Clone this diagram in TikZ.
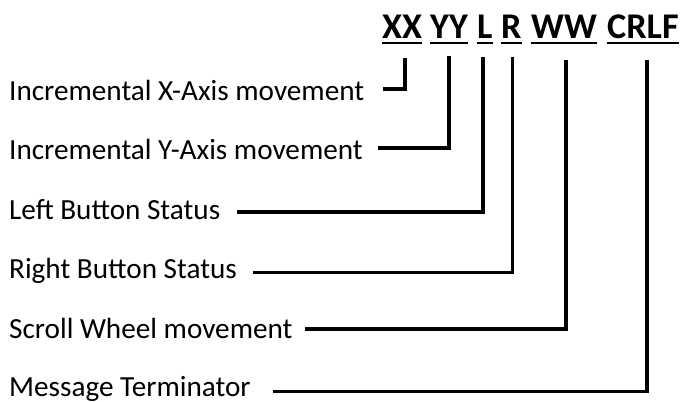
\documentclass[tikz,border=0pt]{standalone}
\usepackage{fontspec}
\setmainfont{Carlito}
\begin{document}
\begin{tikzpicture}[x=1pt,y=-1pt,
  lbl/.style={anchor=base west,inner sep=0pt,font=\fontsize{29.2}{35}\selectfont},
  hdr/.style={anchor=base west,inner sep=0pt,font=\fontsize{36.2}{43}\selectfont\bfseries},
  ul/.style={line width=2.5pt},
  conn/.style={line width=3.1pt,line join=miter}]
\useasboundingbox[fill=white] (0,0) rectangle (681,402);
% header fields
\node[hdr] (xx) at (382,38.5) {XX};
\node[hdr] (yy) at (430,38.5) {YY};
\node[hdr] (ll) at (477,38.5) {L};
\node[hdr] (rr) at (501,38.5) {R};
\node[hdr] (ww) at (531,38.5) {WW};
\node[hdr] (cr) at (607,38.5) {CRLF};
\foreach \n in {xx,yy,ll,rr,ww,cr}
  \draw[ul] ([yshift=-4.3pt]\n.base west) -- ([yshift=-4.3pt]\n.base east);
% labels
\node[lbl] (lx) at (9,100) {Incremental X-Axis movement};
\node[lbl] (ly) at (9,159) {Incremental Y-Axis movement};
\node[lbl] (ll2) at (9,219.5) {Left Button Status};
\node[lbl] (lr) at (9,278.5) {Right Button Status};
\node[lbl] (lw) at (9,338.5) {Scroll Wheel movement};
\node[lbl] (lm) at (9,396.5) {Message Terminator};
% connector start points (right of each label)
\coordinate (sx) at (383,89);
\coordinate (sy) at (378,148);
\coordinate (sl) at (237,212);
\coordinate (sr) at (253,272.5);
\coordinate (sw) at (305,329);
\coordinate (sm) at (273,391.5);
% connector end points (below each field)
\coordinate (tx) at (405,58);
\coordinate (ty) at (449,56);
\coordinate (tl) at (483,57);
\coordinate (tr) at (512.7,57);
\coordinate (tw) at (566,60);
\coordinate (tm) at (647,60);
\draw[conn] (sx) -| (tx);
\draw[conn] (sy) -| (ty);
\draw[conn] (sl) -| (tl);
\draw[conn] (sr) -| (tr);
\draw[conn] (sw) -| (tw);
\draw[conn] (sm) -| (tm);
\end{tikzpicture}
\end{document}
